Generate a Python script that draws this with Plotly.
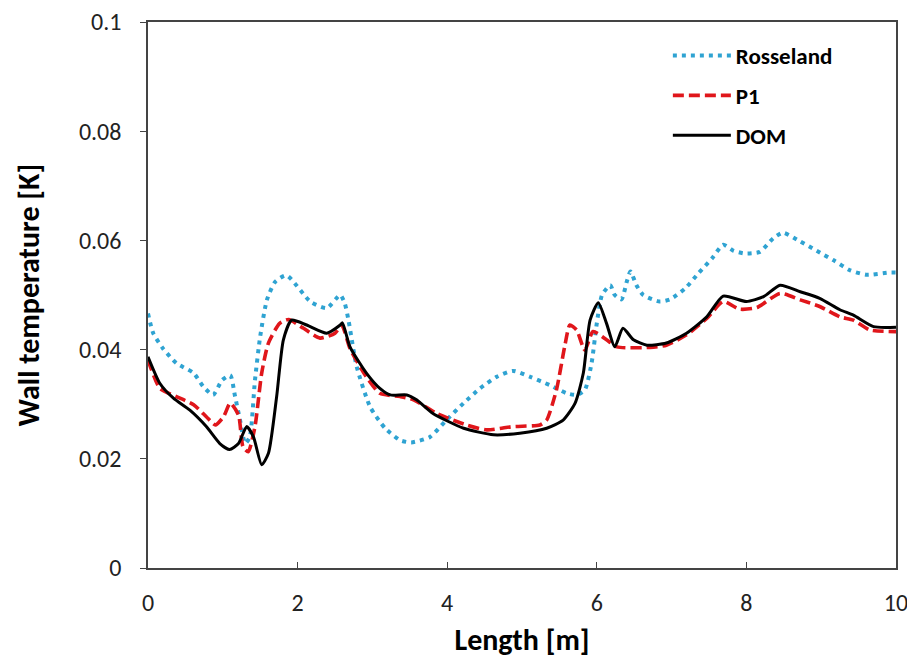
import plotly.graph_objects as go

# ---- data ----
dom_x = [0.0, 0.16, 0.34, 0.56, 0.78, 0.96, 1.09, 1.21, 1.32, 1.41, 1.52, 1.61, 1.72, 1.81, 1.92,
         2.12, 2.39, 2.57, 2.60, 2.70, 2.92, 3.10, 3.24, 3.46, 3.59, 3.81, 4.22, 4.62, 4.97, 5.33,
         5.55, 5.71, 5.82, 5.91, 6.02, 6.13, 6.24, 6.35, 6.49, 6.67, 6.93, 7.20, 7.47, 7.69, 8.00,
         8.23, 8.45, 8.72, 8.98, 9.25, 9.43, 9.70, 10.0]
dom_y = [0.0387, 0.0338, 0.0311, 0.0289, 0.0259, 0.0228, 0.0217, 0.0228, 0.0259, 0.0240, 0.0189,
         0.0210, 0.0314, 0.0418, 0.0454, 0.0445, 0.0430, 0.0445, 0.0449, 0.0405, 0.0357, 0.0329,
         0.0317, 0.0317, 0.0308, 0.0283, 0.0256, 0.0244, 0.0247, 0.0256, 0.0271, 0.0302, 0.0357,
         0.0454, 0.0486, 0.0448, 0.0405, 0.0439, 0.0418, 0.0408, 0.0412, 0.0430, 0.0460, 0.0498,
         0.0488, 0.0497, 0.0518, 0.0506, 0.0494, 0.0473, 0.0463, 0.0442, 0.0441]

p1_x = [0.0, 0.16, 0.38, 0.61, 0.78, 0.90, 1.01, 1.10, 1.21, 1.27, 1.34, 1.43, 1.52, 1.61, 1.76,
        1.88, 2.08, 2.30, 2.50, 2.59, 2.70, 2.92, 3.10, 3.37, 3.55, 3.86, 4.26, 4.53, 4.88, 5.24,
        5.33, 5.46, 5.57, 5.64, 5.73, 5.84, 5.95, 6.13, 6.27, 6.71, 6.93, 7.20, 7.47, 7.69, 7.91,
        8.14, 8.45, 8.72, 8.98, 9.25, 9.43, 9.65, 10.0]
p1_y = [0.0381, 0.0329, 0.0314, 0.0299, 0.0277, 0.0262, 0.0277, 0.0302, 0.0280, 0.0222, 0.0213,
        0.0259, 0.0357, 0.0412, 0.0448, 0.0455, 0.0439, 0.0421, 0.0430, 0.0445, 0.0402, 0.0350,
        0.0320, 0.0314, 0.0308, 0.0283, 0.0262, 0.0253, 0.0259, 0.0262, 0.0271, 0.0326, 0.0405,
        0.0445, 0.0436, 0.0399, 0.0433, 0.0418, 0.0405, 0.0404, 0.0408, 0.0427, 0.0457, 0.0488,
        0.0474, 0.0477, 0.0503, 0.0491, 0.0479, 0.0460, 0.0454, 0.0436, 0.0433]

ros_x = [0.0, 0.07, 0.20, 0.38, 0.61, 0.74, 0.87, 0.99, 1.10, 1.16, 1.23, 1.30, 1.36, 1.43, 1.50,
         1.59, 1.70, 1.85, 2.17, 2.39, 2.57, 2.63, 2.68, 2.79, 2.97, 3.17, 3.37, 3.52, 3.77, 3.99,
         4.22, 4.44, 4.66, 4.88, 5.11, 5.37, 5.60, 5.73, 5.84, 5.93, 6.00, 6.07, 6.18, 6.24, 6.33,
         6.40, 6.45, 6.53, 6.62, 6.84, 6.98, 7.18, 7.36, 7.54, 7.69, 7.83, 7.98, 8.18, 8.36, 8.49,
         8.72, 8.94, 9.16, 9.39, 9.61, 9.90, 10.0]
ros_y = [0.0466, 0.0430, 0.0402, 0.0375, 0.0357, 0.0332, 0.0317, 0.0344, 0.0353, 0.0317, 0.0271,
         0.0228, 0.0240, 0.0344, 0.0424, 0.0491, 0.0524, 0.0536, 0.0488, 0.0476, 0.0500, 0.0485,
         0.0454, 0.0369, 0.0295, 0.0256, 0.0234, 0.0230, 0.0240, 0.0271, 0.0302, 0.0329, 0.0350,
         0.0361, 0.0350, 0.0335, 0.0320, 0.0317, 0.0326, 0.0375, 0.0448, 0.0500, 0.0518, 0.0500,
         0.0492, 0.0524, 0.0543, 0.0518, 0.0500, 0.0488, 0.0492, 0.0512, 0.0540, 0.0567, 0.0592,
         0.0581, 0.0576, 0.0579, 0.0604, 0.0614, 0.0598, 0.0581, 0.0564, 0.0545, 0.0537, 0.0541,
         0.0541]

x_ticks = [0, 2, 4, 6, 8, 10]
y_ticks = [0, 0.02, 0.04, 0.06, 0.08, 0.1]
y_tick_text = ["0", "0.02", "0.04", "0.06", "0.08", "0.1"]

FONT = "Carlito, Lato, 'Open Sans', sans-serif"

fig = go.Figure()
fig.add_trace(go.Scatter(x=ros_x, y=ros_y, mode="lines", name="Rosseland", legendgroup="a",
                         line=dict(color="#2fa3d2", width=4, dash="4px,5px", shape="spline", smoothing=0.6)))
fig.add_trace(go.Scatter(x=p1_x, y=p1_y, mode="lines", name="P1", legendgroup="b",
                         line=dict(color="#e0161b", width=3.6, dash="11px,5px", shape="spline", smoothing=0.6)))
fig.add_trace(go.Scatter(x=dom_x, y=dom_y, mode="lines", name="DOM", legendgroup="c",
                         line=dict(color="#000000", width=3, shape="spline", smoothing=0.6)))

# page body has an 8px margin; compensate so plot area sits at x 148..896, y 22..568
fig.update_layout(
    width=907, height=651,
    margin=dict(l=140, r=19, t=14, b=91, autoexpand=False),
    paper_bgcolor="white", plot_bgcolor="white",
    font=dict(family=FONT, color="#222222"),
    showlegend=True,
    legend=dict(x=0.695, y=0.978, xanchor="left", yanchor="top",
                font=dict(size=23, family=FONT, color="#000000", weight="bold"),
                tracegroupgap=7, traceorder="grouped", itemwidth=58,
                bgcolor="rgba(0,0,0,0)"),
    xaxis=dict(range=[0, 10], tickvals=x_ticks, ticktext=[str(v) for v in x_ticks],
               ticks="inside", ticklen=6, tickcolor="#444", showgrid=False, zeroline=False,
               showline=True, linecolor="#444", linewidth=1.5, mirror=True, automargin=False,
               ticklabelstandoff=12, ticklabeloverflow="allow",
               tickfont=dict(size=24, family=FONT, color="#222"),
               title=dict(text="<b>Length [m]</b>", font=dict(size=30, family=FONT, color="#000"), standoff=13)),
    yaxis=dict(range=[0, 0.1], tickvals=y_ticks, ticktext=y_tick_text,
               ticks="outside", ticklen=6, tickcolor="#444", showgrid=False, zeroline=False,
               showline=True, linecolor="#444", linewidth=1.5, mirror=True, automargin=False,
               ticklabelstandoff=14, ticklabeloverflow="allow",
               tickfont=dict(size=24, family=FONT, color="#222"),
               title=dict(text="<b>Wall temperature [K]</b>", font=dict(size=30, family=FONT, color="#000"), standoff=30)),
)

fig.write_html("out.html")
